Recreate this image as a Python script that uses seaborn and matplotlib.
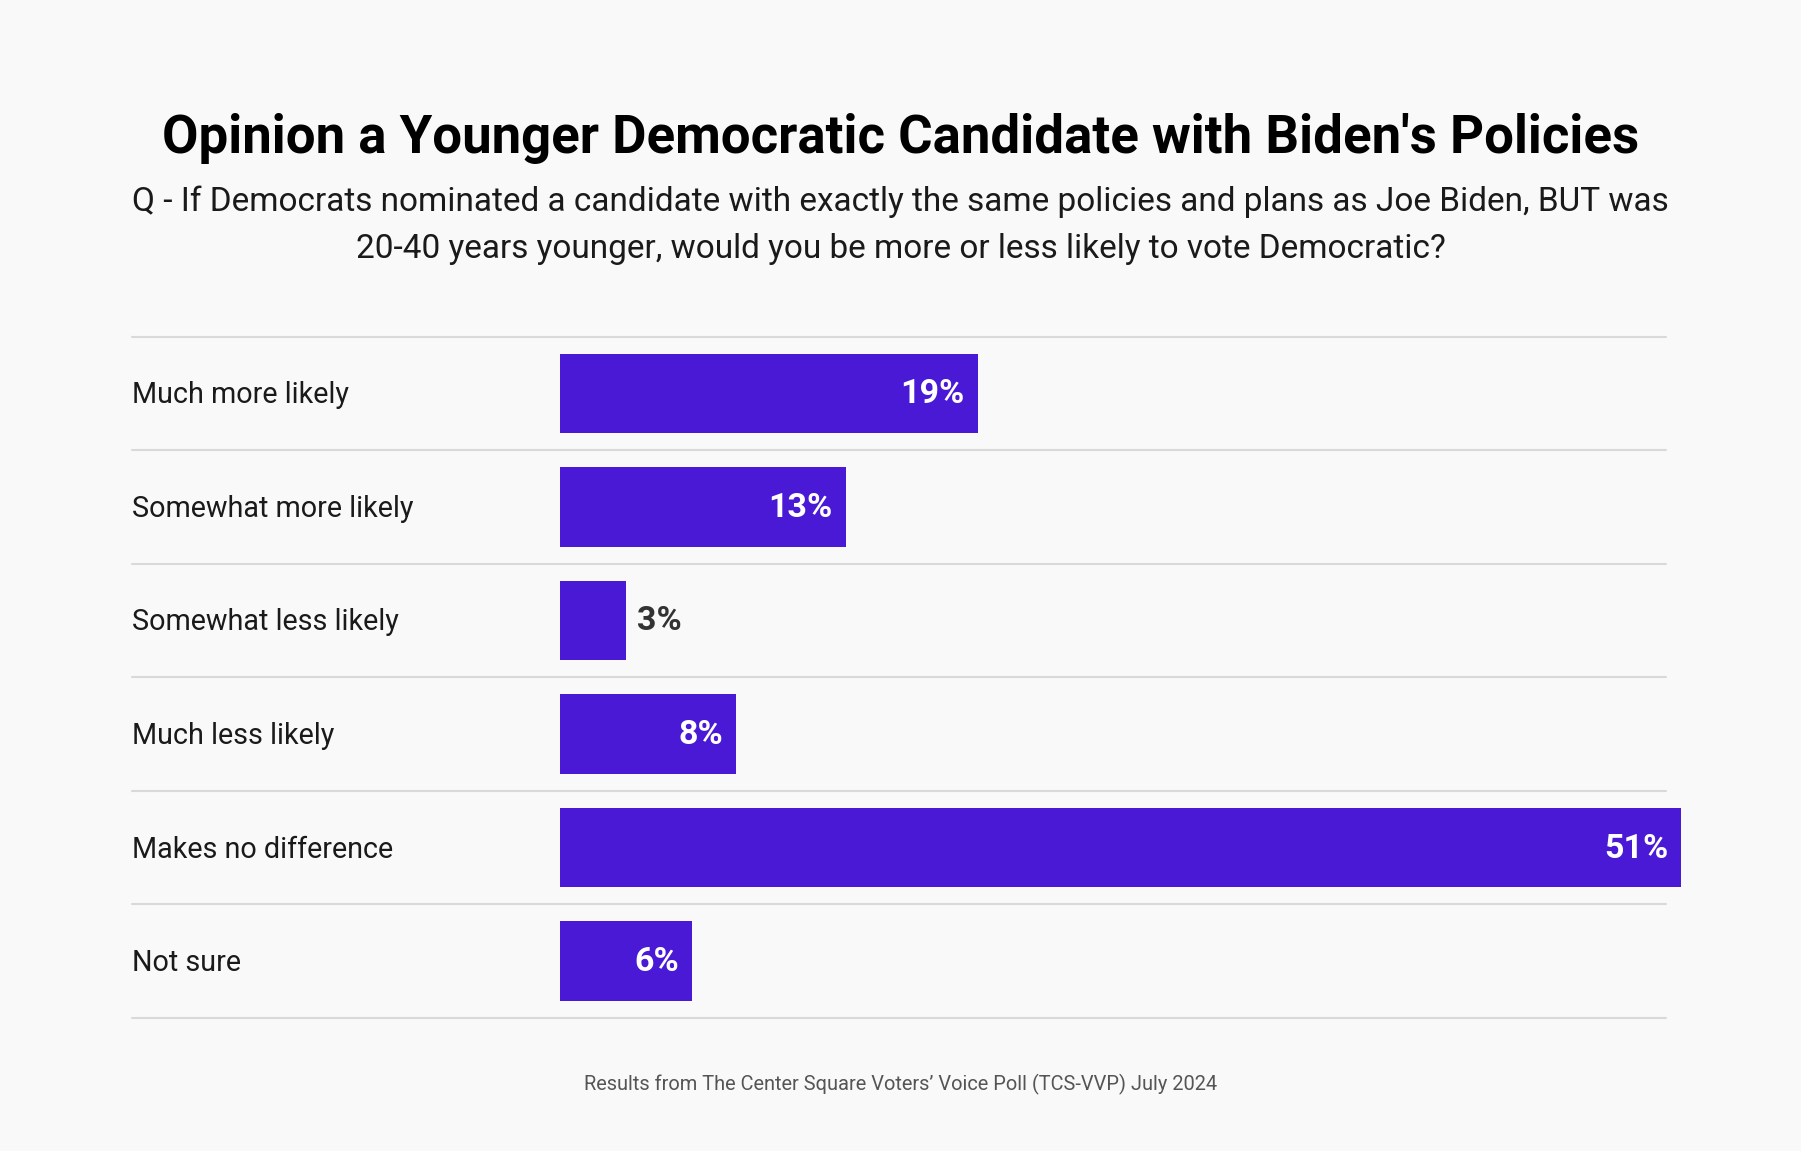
import matplotlib
matplotlib.use("Agg")
import matplotlib.pyplot as plt
import matplotlib.transforms as mtransforms
from matplotlib.lines import Line2D
import seaborn as sns
import pandas as pd

categories = ["Much more likely", "Somewhat more likely", "Somewhat less likely",
              "Much less likely", "Makes no difference", "Not sure"]
values = [19, 13, 3, 8, 51, 6]
title = "Opinion a Younger Democratic Candidate with Biden's Policies"
subtitle = ("Q - If Democrats nominated a candidate with exactly the same policies and plans as Joe Biden, BUT was\n"
            "20-40 years younger, would you be more or less likely to vote Democratic?")
footer = "Results from The Center Square Voters\u2019 Voice Poll (TCS-VVP) July 2024"

sns.set_theme(style="white")
plt.rcParams['font.family'] = ['Roboto', 'DejaVu Sans']

W, H = 1801, 1151
BG = "#F9F9F9"
BAR = "#4A19D6"
fig = plt.figure(figsize=(W / 100, H / 100), dpi=100, facecolor=BG)

# axes: x 560..1681 px, y 336.5..1018 px
x0, x1 = 560, 1681
ytop, ybot = 336.5, 1018
ax = fig.add_axes([x0 / W, 1 - ybot / H, (x1 - x0) / W, (ybot - ytop) / H])
ax.patch.set_visible(False)

df = pd.DataFrame({"category": categories, "value": values})
sns.barplot(data=df, x="value", y="category", orient="h", color=BAR,
            width=0.70, ax=ax, saturation=1, linewidth=0)
ax.set_xlim(0, max(values))
ax.set_ylim(len(categories) - 0.5, -0.5)
for s in ax.spines.values():
    s.set_visible(False)
ax.set_xticks([])
ax.set_yticks([])
ax.set_xlabel("")
ax.set_ylabel("")
for p in ax.patches:
    p.set_clip_on(False)

# separators
for i in range(len(categories) + 1):
    yy = ytop + (ybot - ytop) * i / len(categories)
    fig.add_artist(Line2D([132 / W, 1666 / W], [1 - yy / H, 1 - yy / H],
                          color="#D9D9D9", lw=1.5, transform=fig.transFigure, zorder=0))

# category labels
blend = mtransforms.blended_transform_factory(fig.transFigure, ax.transData)
shift = mtransforms.ScaledTranslation(0, -2 / 100, fig.dpi_scale_trans)
for i, c in enumerate(categories):
    ax.text(132 / W, i, c, transform=blend + shift, ha="left", va="center",
            fontsize=20.7, color="#1a1a1a", clip_on=False)

# value labels
for i, v in enumerate(values):
    if v >= 5:
        ax.text(v, i, f"{v}%", ha="right", va="center", fontsize=24.5, fontweight="bold",
                color="white", clip_on=False,
                transform=ax.transData + mtransforms.ScaledTranslation(-13 / 100, -1 / 100, fig.dpi_scale_trans))
    else:
        ax.text(v, i, f"{v}%", ha="left", va="center", fontsize=24.5, fontweight="bold",
                color="#333333", clip_on=False,
                transform=ax.transData + mtransforms.ScaledTranslation(11 / 100, -1 / 100, fig.dpi_scale_trans))

fig.text(0.5, 1 - 138 / H, title, ha="center", va="center", fontsize=38.0,
         fontweight="bold", color="black")
fig.text(0.5, 1 - 225 / H, subtitle, ha="center", va="center", fontsize=24,
         color="#1a1a1a", linespacing=1.6)
fig.text(0.5, 1 - 1084 / H, footer, ha="center", va="center", fontsize=14.4,
         color="#555555")

fig.savefig("out.png", dpi=100, facecolor=BG)
